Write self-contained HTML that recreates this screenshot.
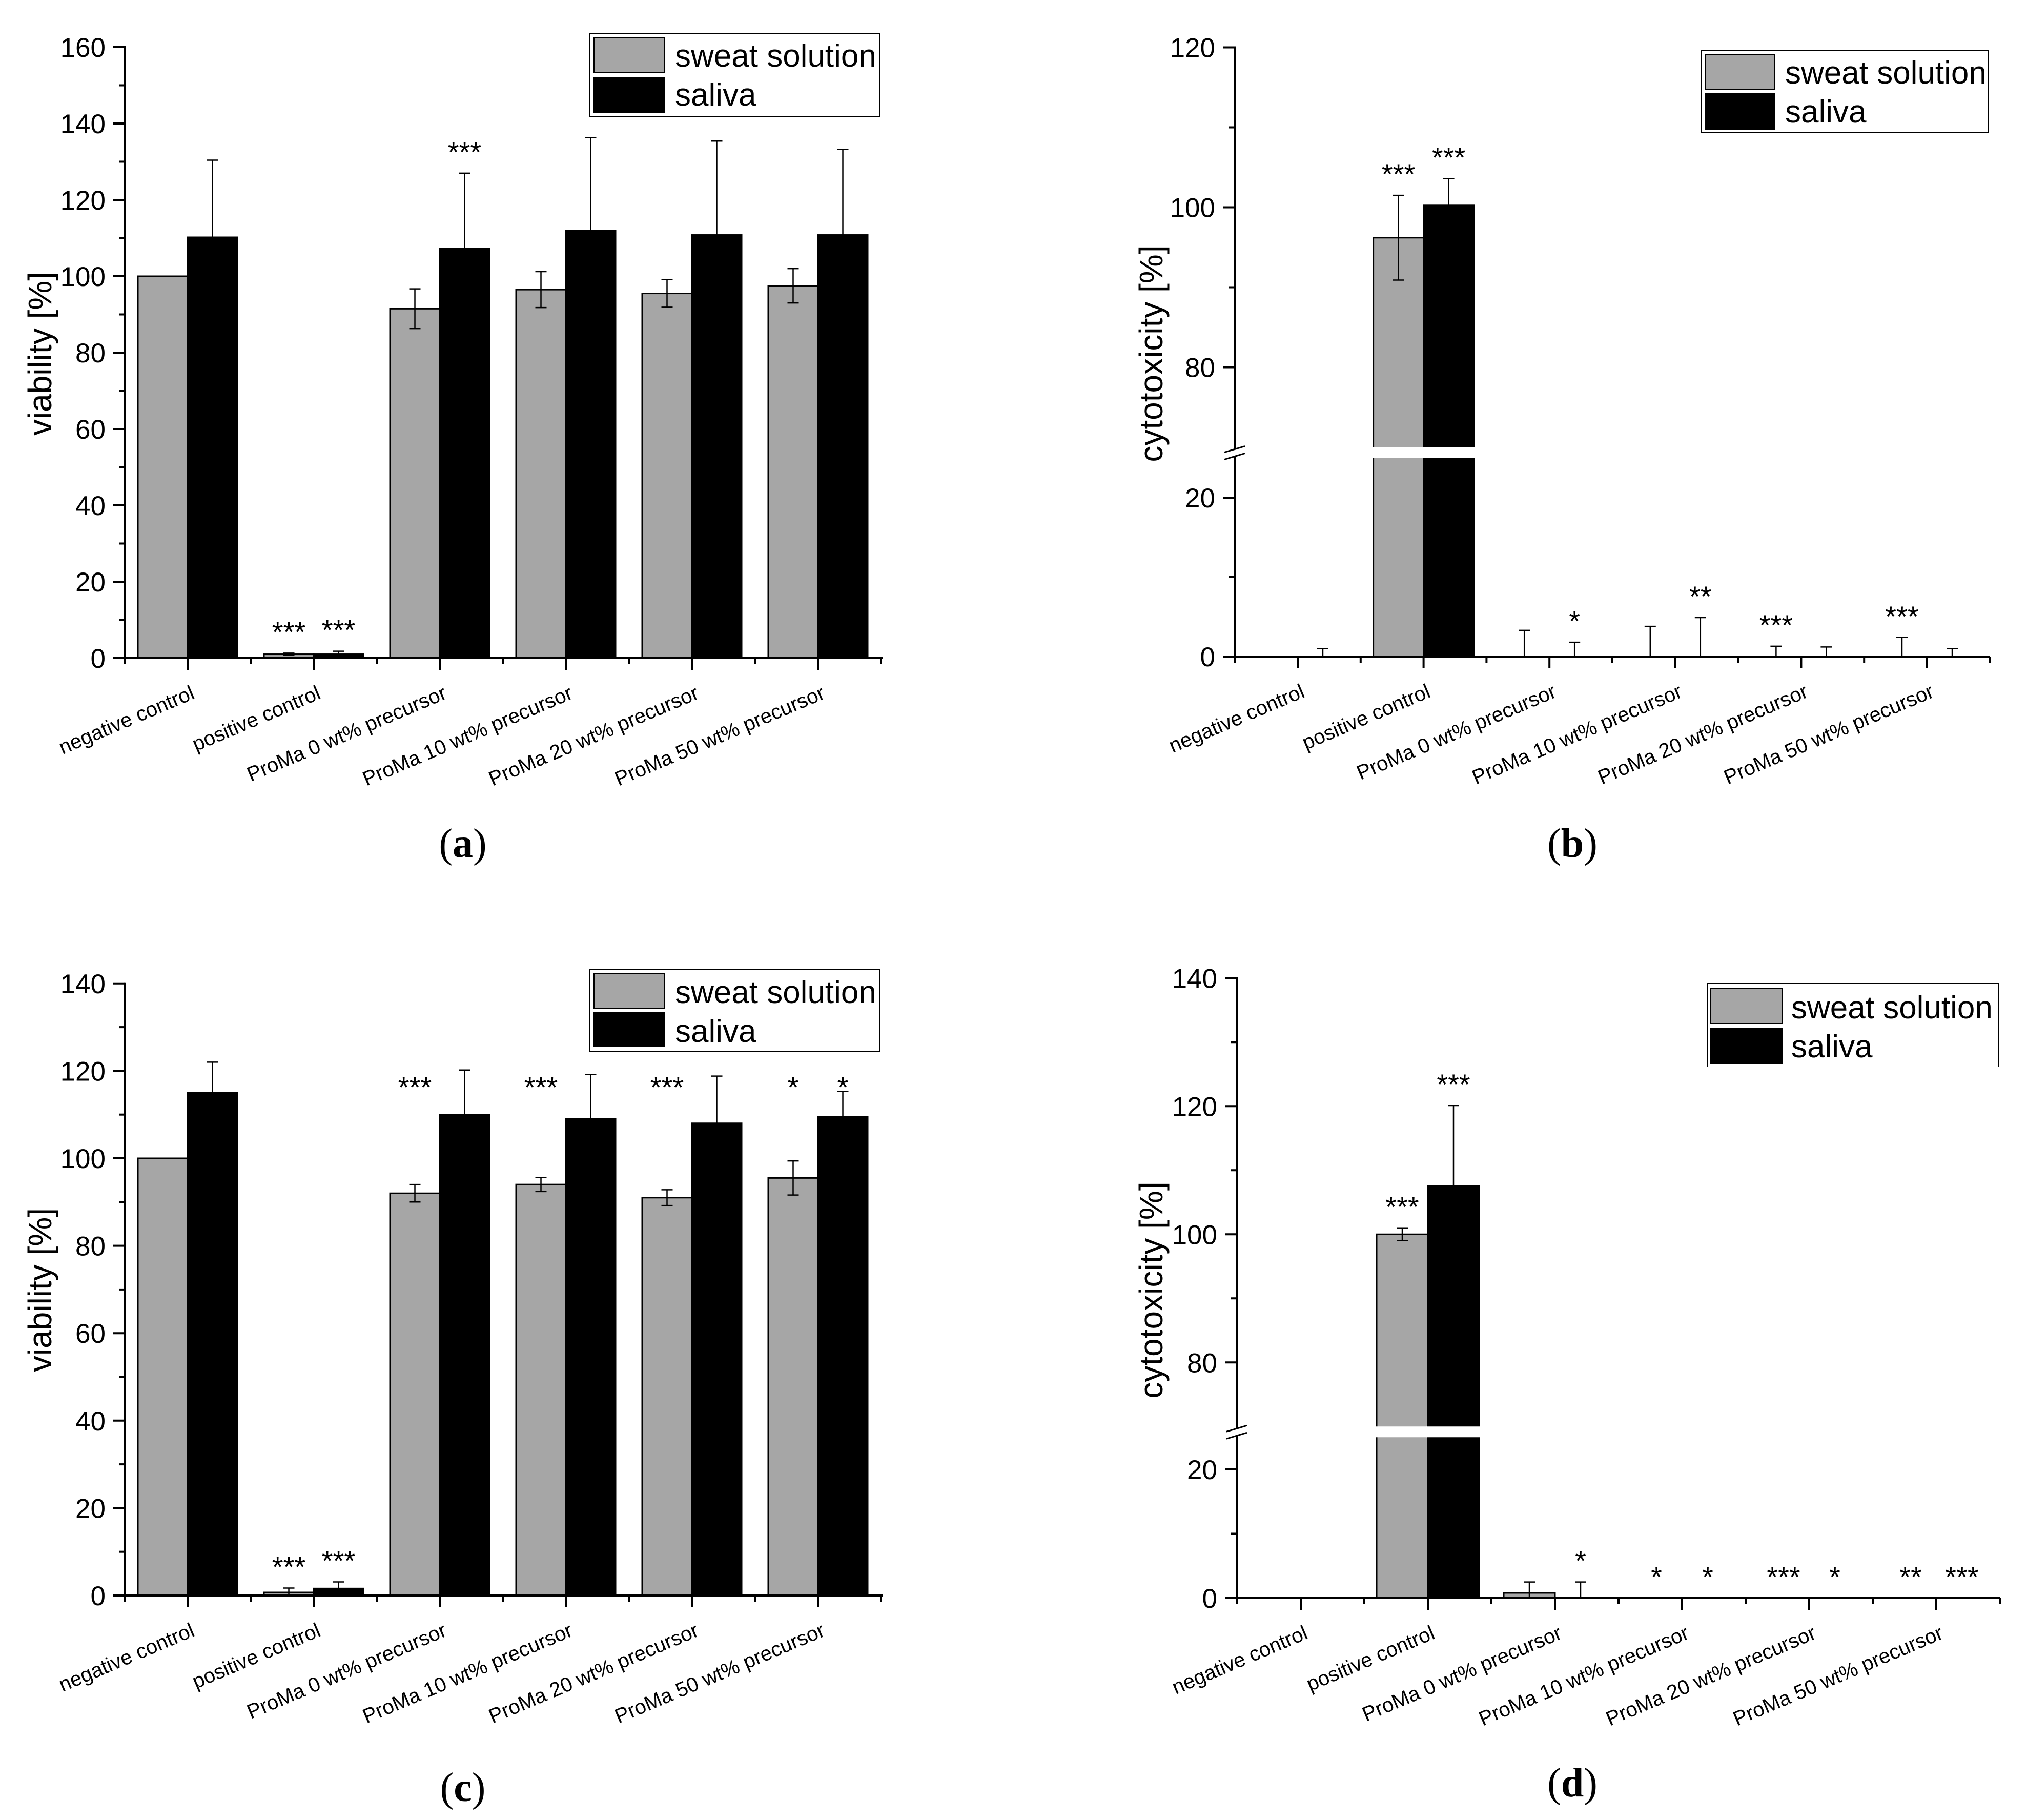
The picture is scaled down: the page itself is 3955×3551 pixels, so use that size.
<!DOCTYPE html>
<html><head><meta charset="utf-8"><style>
html,body{margin:0;padding:0;background:#fff}
svg{display:block}
text{font-family:"Liberation Sans",sans-serif;fill:#000}
.pl{font-family:"Liberation Serif",serif}
</style></head><body>
<svg id="fig" width="3955" height="3551" viewBox="0 0 3955 3551" xmlns="http://www.w3.org/2000/svg"></svg>
<script>
const categories = ["negative control","positive control","ProMa 0 wt% precursor","ProMa 10 wt% precursor","ProMa 20 wt% precursor","ProMa 50 wt% precursor"];
// panel a - viability
const aSweat = [100, 1, 91.5, 96.5, 95.5, 97.5];
const aSweatErr = [0, 0.3, 5.2, 4.7, 3.6, 4.5];
const aSaliva = [110.2, 1, 107.2, 112, 110.8, 110.8];
const aSalivaErr = [20.2, 0.8, 19.8, 24.3, 24.6, 22.4];
const aSweatStars = ["", "***", "", "", "", ""];
const aSalivaStars = ["", "***", "***", "", "", ""];
const aTicks = [0,20,40,60,80,100,120,140,160];
// panel b - cytotoxicity
const bSweat = [0, 96.2, 0, 0, 0, 0];
const bSweatErr = [0, 5.3, 3.3, 3.8, 1.3, 2.4];
const bSaliva = [0, 100.3, 0, 0, 0, 0];
const bSalivaErr = [1.0, 3.3, 1.8, 4.9, 1.2, 1.0];
const bSweatStars = ["", "***", "", "", "***", "***"];
const bSalivaStars = ["", "***", "*", "**", "", ""];
const bTicks = [0,20,80,100,120];
// panel c - viability
const cSweat = [100, 0.7, 92, 94, 91, 95.5];
const cSweatErr = [0, 1, 2, 1.6, 1.8, 3.9];
const cSaliva = [115, 1.6, 110, 109, 108, 109.5];
const cSalivaErr = [7, 1.5, 10.2, 10.2, 10.8, 5.8];
const cSweatStars = ["", "***", "***", "***", "***", "*"];
const cSalivaStars = ["", "***", "", "", "", "*"];
const cTicks = [0,20,40,60,80,100,120,140];
// panel d - cytotoxicity
const dSweat = [0, 100, 0.8, 0, 0, 0];
const dSweatErr = [0, 1, 1.7, 0, 0, 0];
const dSaliva = [0, 107.5, 0, 0, 0, 0];
const dSalivaErr = [0, 12.6, 2.5, 0, 0, 0];
const dSweatStars = ["", "***", "", "*", "***", "**"];
const dSalivaStars = ["", "***", "*", "*", "*", "***"];
const dTicks = [0,20,80,100,120,140];

const NS = "http://www.w3.org/2000/svg";
const svg = document.getElementById("fig");
function mk(tag, attrs, parent, txt){
  const e = document.createElementNS(NS, tag);
  for (const k in attrs) e.setAttribute(k, attrs[k]);
  if (txt !== undefined) e.textContent = txt;
  (parent || svg).appendChild(e);
  return e;
}

function panel(p){
  const g = mk("g", {});
  
  
  const broken = p.broken;
  function y(v){
    if (!broken) return p.zero - v * p.pu;
    if (v <= 25) return p.zero - v * p.pl;
    const top70 = p.zero - 25 * p.pl - 21;
    return top70 - (v - 70) * p.pu;
  }
  const xc = i => p.c0 + i * p.sp;
  const bw = p.bw;
  const series = [[p.sw, p.swE, p.swS, "#a6a6a6", -1, "sweat"], [p.sa, p.saE, p.saS, "#000", 0, "saliva"]];
  series.forEach(s => {
    s[0].forEach((v, i) => {
      const x = xc(i) + s[4] * bw;
      if (v > 0) {
        const r = mk("rect", {x: x, y: y(v), width: bw, height: p.zero - y(v), fill: s[3], stroke: "#000", "stroke-width": 3}, g);
        
        
        if (broken && v > 70) {
          const gy = p.zero - 25 * p.pl - 21;
          mk("rect", {x: x - 3, y: gy, width: bw + 6, height: 21, fill: "#fff"}, g);
        }
      }
    });
  });
  series.forEach(s => {
    s[0].forEach((v, i) => {
      const cx = xc(i) + s[4] * bw + bw / 2;
      const e = s[1][i];
      if (e > 0) {
        const eb = mk("g", {}, g);
        
        
        const lo = Math.max(0, v - e);
        mk("line", {x1: cx, x2: cx, y1: y(v + e), y2: y(lo), stroke: "#000", "stroke-width": 2.5}, eb);
        mk("line", {x1: cx - 11, x2: cx + 11, y1: y(v + e), y2: y(v + e), stroke: "#000", "stroke-width": 2.5}, eb);
        if (v - e > 0.5) mk("line", {x1: cx - 11, x2: cx + 11, y1: y(lo), y2: y(lo), stroke: "#000", "stroke-width": 2.5}, eb);
      }
      const st = s[2][i];
      if (st) {
        let sy = y(v + e) - 22;
        if (p.starLevel !== undefined && v > 50) sy = y(p.starLevel);
        const t = mk("text", {x: cx, y: sy, "font-size": 56, "text-anchor": "middle"}, g, st);
        
        
      }
    });
  });
  const ax = mk("g", {}, g);
  
  
  const topV = p.ticks[p.ticks.length - 1];
  mk("line", {x1: p.x0, x2: p.x0, y1: y(topV) - 2, y2: p.zero + 2, stroke: "#000", "stroke-width": 4}, ax);
  p.ticks.forEach(t => {
    mk("line", {x1: p.x0 - 23, x2: p.x0, y1: y(t), y2: y(t), stroke: "#000", "stroke-width": 4}, ax);
    const tl = mk("text", {x: p.x0 - 38, y: y(t) + 19, "font-size": 53, "text-anchor": "end"}, ax, String(t));
    
    
  });
  for (let m = 10; m < topV; m += 20) {
    if (broken && m > 25 && m <= 70) continue;
    mk("line", {x1: p.x0 - 12, x2: p.x0, y1: y(m), y2: y(m), stroke: "#000", "stroke-width": 4}, ax);
  }
  if (broken) {
    const by = p.zero - 25 * p.pl - 10;
    mk("rect", {x: p.x0 - 6, y: by - 7, width: 12, height: 14, fill: "#fff"}, ax);
    mk("line", {x1: p.x0 - 20, x2: p.x0 + 20, y1: by - 1, y2: by - 13, stroke: "#000", "stroke-width": 3}, ax);
    mk("line", {x1: p.x0 - 20, x2: p.x0 + 20, y1: by + 13, y2: by + 1, stroke: "#000", "stroke-width": 3}, ax);
  }
  const yt = mk("text", {x: 0, y: 0, "font-size": 64, "text-anchor": "middle", transform: `translate(${p.ytx},${p.yty}) rotate(-90)`}, ax, p.ytitle);
  
  
  const xa = mk("g", {}, g);
  
  
  mk("line", {x1: p.x0 - 2, x2: p.x1, y1: p.zero, y2: p.zero, stroke: "#000", "stroke-width": 4}, xa);
  for (let i = 0; i <= categories.length; i++) {
    const mx = xc(i) - p.sp / 2;
    mk("line", {x1: mx, x2: mx, y1: p.zero, y2: p.zero + 12, stroke: "#000", "stroke-width": 4}, xa);
  }
  categories.forEach((c, i) => {
    mk("line", {x1: xc(i), x2: xc(i), y1: p.zero, y2: p.zero + 23, stroke: "#000", "stroke-width": 4}, xa);
    const tx = xc(i) + 16, ty = p.zero + 78;
    const cl = mk("text", {x: tx, y: ty, "font-size": 40, "text-anchor": "end", transform: `rotate(-23 ${tx} ${ty})`}, xa, c);
    
    
  });
  const L = p.leg;
  const lg = mk("g", {}, g);
  
  
  if (L.noBottom) {
    mk("path", {d: `M${L.x0} ${L.y1} V${L.y0} H${L.x1} V${L.y1}`, fill: "none", stroke: "#000", "stroke-width": 2}, lg);
  } else {
    mk("rect", {x: L.x0, y: L.y0, width: L.x1 - L.x0, height: L.y1 - L.y0, fill: "#fff", stroke: "#000", "stroke-width": 2}, lg);
  }
  const e1 = mk("g", {}, lg);
  
  
  mk("rect", {x: L.sx0, y: L.g0, width: L.sx1 - L.sx0, height: L.g1 - L.g0, fill: "#a6a6a6", stroke: "#000", "stroke-width": 2}, e1);
  mk("text", {x: L.tx, y: L.b1, "font-size": 62}, e1, "sweat solution");
  const e2 = mk("g", {}, lg);
  
  
  mk("rect", {x: L.sx0, y: L.k0, width: L.sx1 - L.sx0, height: L.k1 - L.k0, fill: "#000", stroke: "#000", "stroke-width": 2}, e2);
  mk("text", {x: L.tx, y: L.b2, "font-size": 62}, e2, "saliva");
  const pl = mk("text", {x: p.lx, y: p.ly, "font-size": 80, "text-anchor": "middle", class: "pl"}, g);
  
  
  mk("tspan", {}, pl, "(");
  mk("tspan", {"font-weight": "bold"}, pl, p.id);
  mk("tspan", {}, pl, ")");
}

panel({id: "a", broken: false, zero: 1284, pu: 7.45, x0: 244, x1: 1722, c0: 366, sp: 246, bw: 97,
  sw: aSweat, swE: aSweatErr, swS: aSweatStars, sa: aSaliva, saE: aSalivaErr, saS: aSalivaStars, ticks: aTicks,
  ytitle: "viability [%]", ytx: 100, yty: 690, lx: 903, ly: 1672,
  leg: {x0: 1151, x1: 1716, y0: 66, y1: 227, sx0: 1159, sx1: 1296, g0: 74, g1: 141, k0: 151, k1: 219, tx: 1317, b1: 130, b2: 206}});
panel({id: "b", broken: true, zero: 1281, pl: 15.5, pu: 15.6, x0: 2409, x1: 3883, c0: 2532, sp: 245.6, bw: 98,
  sw: bSweat, swE: bSweatErr, swS: bSweatStars, sa: bSaliva, saE: bSalivaErr, saS: bSalivaStars, ticks: bTicks,
  ytitle: "cytotoxicity [%]", ytx: 2268, yty: 690, lx: 3068, ly: 1672,
  leg: {x0: 3319, x1: 3880, y0: 98, y1: 259, sx0: 3327, sx1: 3463, g0: 107, g1: 174, k0: 183, k1: 252, tx: 3483, b1: 163, b2: 239}});
panel({id: "c", broken: false, zero: 3113, pu: 8.53, x0: 244, x1: 1722, c0: 366, sp: 246, bw: 97, starLevel: 114,
  sw: cSweat, swE: cSweatErr, swS: cSweatStars, sa: cSaliva, saE: cSalivaErr, saS: cSalivaStars, ticks: cTicks,
  ytitle: "viability [%]", ytx: 100, yty: 2517, lx: 903, ly: 3514,
  leg: {x0: 1151, x1: 1716, y0: 1891, y1: 2052, sx0: 1159, sx1: 1296, g0: 1899, g1: 1968, k0: 1975, k1: 2042, tx: 1317, b1: 1957, b2: 2033}});
panel({id: "d", broken: true, zero: 3118, pl: 12.55, pu: 12.5, x0: 2413, x1: 3903, c0: 2538, sp: 248, bw: 100,
  sw: dSweat, swE: dSweatErr, swS: dSweatStars, sa: dSaliva, saE: dSalivaErr, saS: dSalivaStars, ticks: dTicks,
  ytitle: "cytotoxicity [%]", ytx: 2268, yty: 2517, lx: 3068, ly: 3505,
  leg: {x0: 3331, x1: 3899, y0: 1919, y1: 2081, noBottom: true, sx0: 3338, sx1: 3477, g0: 1929, g1: 1997, k0: 2006, k1: 2075, tx: 3495, b1: 1987, b2: 2063}});
</script>
</body></html>
